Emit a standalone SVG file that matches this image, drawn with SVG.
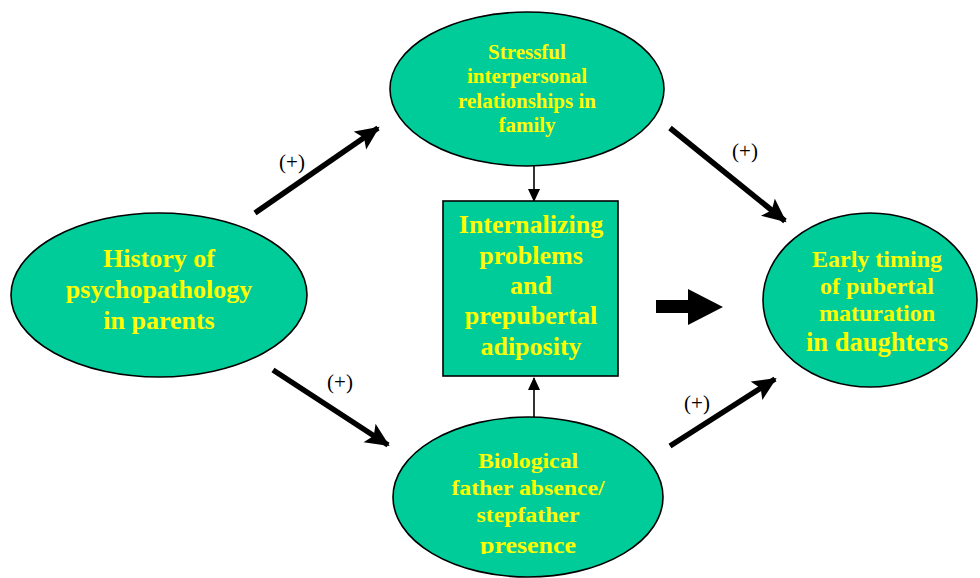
<svg xmlns="http://www.w3.org/2000/svg" width="980" height="578" viewBox="0 0 980 578">
<defs>
<style>
.node{fill:#00CC99;stroke:#000;stroke-width:1.6}
.t{font-family:"Liberation Serif","Times New Roman",serif;font-weight:bold;fill:#FFFF00;text-anchor:middle}
.lbl{font-family:"Liberation Serif","Times New Roman",serif;font-size:21px;fill:#000;text-anchor:middle}
.thick{stroke:#000;stroke-width:5.5;fill:none}
.thin{stroke:#000;stroke-width:1.6;fill:none}
</style>
<marker id="ah" markerUnits="userSpaceOnUse" markerWidth="26" markerHeight="24" refX="22" refY="11" orient="auto" viewBox="0 0 26 24">
<path d="M0,0 L24,11 L0,22 L5,11 Z" fill="#000"/>
</marker>
<marker id="ahs" markerUnits="userSpaceOnUse" markerWidth="14" markerHeight="14" refX="12" refY="7" orient="auto" viewBox="0 0 14 14">
<path d="M0,1 L13,7 L0,13 Z" fill="#000"/>
</marker>
<clipPath id="clipPres"><rect x="-200" y="528" width="400" height="26"/></clipPath>
</defs>
<rect width="980" height="578" fill="#fff"/>

<g id="connectors">
<line class="thick" x1="255" y1="213" x2="378" y2="128" marker-end="url(#ah)"/>
<line class="thick" x1="670" y1="128" x2="785" y2="221" marker-end="url(#ah)"/>
<line class="thick" x1="273" y1="370" x2="388" y2="445" marker-end="url(#ah)"/>
<line class="thick" x1="670" y1="446" x2="775" y2="379" marker-end="url(#ah)"/>
<line class="thin" x1="534" y1="166" x2="534" y2="201" marker-end="url(#ahs)"/>
<line class="thin" x1="534" y1="417" x2="534" y2="378" marker-end="url(#ahs)"/>
<path d="M656,300 L688,300 L688,289 L723,307 L688,325 L688,313 L656,313 Z" fill="#000"/>
<text class="lbl" x="292" y="169">(+)</text>
<text class="lbl" x="745" y="158">(+)</text>
<text class="lbl" x="340" y="389">(+)</text>
<text class="lbl" x="697" y="410">(+)</text>
</g>

<g id="stressful">
<ellipse class="node" cx="527" cy="89" rx="137" ry="77"/>
<text class="t" font-size="21"><tspan x="527" y="59">Stressful</tspan><tspan x="527" y="83">interpersonal</tspan><tspan x="527" y="108">relationships in</tspan><tspan x="527" y="132">family</tspan></text>
</g>

<g id="history">
<ellipse class="node" cx="159" cy="295" rx="148" ry="82"/>
<text class="t" font-size="26"><tspan x="159" y="267">History of</tspan><tspan x="159" y="298">psychopathology</tspan><tspan x="159" y="329">in parents</tspan></text>
</g>

<g id="internalizing">
<rect class="node" x="443" y="201" width="175" height="175"/>
<text class="t" font-size="26"><tspan x="531" y="233">Internalizing</tspan><tspan x="531" y="264">problems</tspan><tspan x="531" y="294">and</tspan><tspan x="531" y="324">prepubertal</tspan><tspan x="531" y="355">adiposity</tspan></text>
</g>

<g id="early">
<ellipse class="node" cx="870" cy="300" rx="107" ry="87"/>
<text class="t" font-size="24"><tspan x="877" y="267">Early timing</tspan><tspan x="877" y="294">of pubertal</tspan><tspan x="877" y="321">maturation</tspan></text>
<text class="t" font-size="26.5" x="877" y="351">in daughters</text>
</g>

<g id="father">
<ellipse class="node" cx="528" cy="497" rx="135" ry="80"/>
<g transform="translate(528,0) scale(1.08,1)">
<text class="t" font-size="22"><tspan x="0" y="468">Biological</tspan><tspan x="0" y="495">father absence/</tspan><tspan x="0" y="522">stepfather</tspan></text>
<text class="t" font-size="24" x="0" y="553" clip-path="url(#clipPres)">presence</text>
</g>
</g>
</svg>
